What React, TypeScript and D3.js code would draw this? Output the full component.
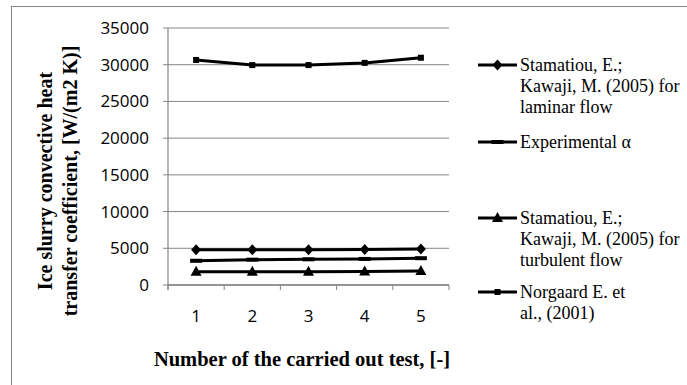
import React from "react";
import * as d3 from "d3";

const tests = [1, 2, 3, 4, 5];
const laminar = [4800, 4800, 4800, 4850, 4900];
const experimental = [3300, 3450, 3500, 3550, 3650];
const turbulent = [1800, 1800, 1800, 1850, 1900];
const norgaard = [30650, 29950, 29950, 30250, 30950];
const yTicks = [0, 5000, 10000, 15000, 20000, 25000, 30000, 35000];

const W = 687, H = 385;
const plot = { left: 168, right: 449, top: 28, bottom: 285 };

const series = [
  { name: ["Stamatiou, E.;", "Kawaji, M. (2005) for", "laminar flow"], values: laminar, marker: "diamond", legendY: 65 },
  { name: ["Experimental α"], values: experimental, marker: "dash", legendY: 142 },
  { name: ["Stamatiou, E.;", "Kawaji, M. (2005) for", "turbulent flow"], values: turbulent, marker: "triangle", legendY: 218 },
  { name: ["Norgaard E. et", "al., (2001)"], values: norgaard, marker: "square", legendY: 292 },
];

function Marker({ type, x, y }: { type: string; x: number; y: number }) {
  if (type === "diamond") {
    return <path d={`M${x},${y - 5.5}L${x + 5},${y}L${x},${y + 5.5}L${x - 5},${y}Z`} fill="#000" />;
  }
  if (type === "triangle") {
    return <path d={`M${x},${y - 6}L${x + 5.5},${y + 4}L${x - 5.5},${y + 4}Z`} fill="#000" />;
  }
  if (type === "square") {
    return <rect x={x - 3} y={y - 3} width={6} height={6} fill="#000" />;
  }
  return <rect x={x - 6} y={y - 2} width={12} height={4} fill="#000" />;
}

export default function App() {
  const x = d3.scaleBand<number>().domain(tests).range([plot.left, plot.right]);
  const y = d3.scaleLinear().domain([0, 35000]).range([plot.bottom, plot.top]);
  const line = d3
    .line<number>()
    .x((_, i) => (x(tests[i]) as number) + x.bandwidth() / 2)
    .y((d) => y(d));
  const grid = "#868686";
  const tickXs = d3.range(tests.length + 1).map((i) => plot.left + i * x.bandwidth());
  const serif = "Liberation Serif";

  return (
    <div style={{ position: "fixed", left: 0, top: 0 }}>
      <svg width={W} height={H} style={{ display: "block", background: "#fff" }}>
        <rect x={11.5} y={6.5} width={700} height={400} fill="#fff" stroke="#868686" strokeWidth={1} />
        {yTicks.map((t) => (
          <g key={t}>
            <line x1={plot.left - 5} x2={plot.right} y1={y(t)} y2={y(t)} stroke={grid} strokeWidth={1} />
            <text x={plot.left - 19} y={y(t)} dy="0.35em" textAnchor="end" fontFamily="Open Sans" fontSize={17} fill="#000">
              {t}
            </text>
          </g>
        ))}
        <line x1={plot.left} x2={plot.left} y1={plot.top} y2={plot.bottom + 5} stroke={grid} strokeWidth={1.2} />
        <line x1={plot.left} x2={plot.right} y1={plot.bottom} y2={plot.bottom} stroke={grid} strokeWidth={1.5} />
        {tickXs.map((tx, i) => (
          <line key={i} x1={tx} x2={tx} y1={plot.bottom} y2={plot.bottom + 5} stroke={grid} strokeWidth={1} />
        ))}
        {tests.map((t) => (
          <text key={t} x={(x(t) as number) + x.bandwidth() / 2} y={316} dy="0.35em" textAnchor="middle" fontFamily="Open Sans" fontSize={17} fill="#000">
            {t}
          </text>
        ))}
        {series.map((s, si) => (
          <g key={si}>
            <path d={line(s.values) || ""} fill="none" stroke="#000" strokeWidth={3} />
            {s.values.map((v, i) => (
              <Marker key={i} type={s.marker} x={(x(tests[i]) as number) + x.bandwidth() / 2} y={y(v)} />
            ))}
          </g>
        ))}
        {series.map((s, si) => (
          <g key={"l" + si}>
            <line x1={478} x2={517} y1={s.legendY} y2={s.legendY} stroke="#000" strokeWidth={3} />
            <Marker type={s.marker} x={497.5} y={s.legendY} />
            {s.name.map((n, j) => (
              <text key={j} x={520} y={s.legendY + j * 21} dy="0.35em" fontFamily={serif} fontSize={18} fill="#000">
                {n}
              </text>
            ))}
          </g>
        ))}
        <g transform="translate(45,181) rotate(-90)">
          <text textAnchor="middle" dy="0.35em" fontFamily={serif} fontWeight="bold" fontSize={20} fill="#000">
            Ice slurry convective heat
          </text>
          <text y={25} textAnchor="middle" dy="0.35em" fontFamily={serif} fontWeight="bold" fontSize={20} fill="#000">
            transfer coefficient, [W/(m2 K)]
          </text>
        </g>
        <text x={302} y={359} dy="0.35em" textAnchor="middle" fontFamily={serif} fontWeight="bold" fontSize={20.5} fill="#000">
          Number of the carried out test, [-]
        </text>
      </svg>
    </div>
  );
}
